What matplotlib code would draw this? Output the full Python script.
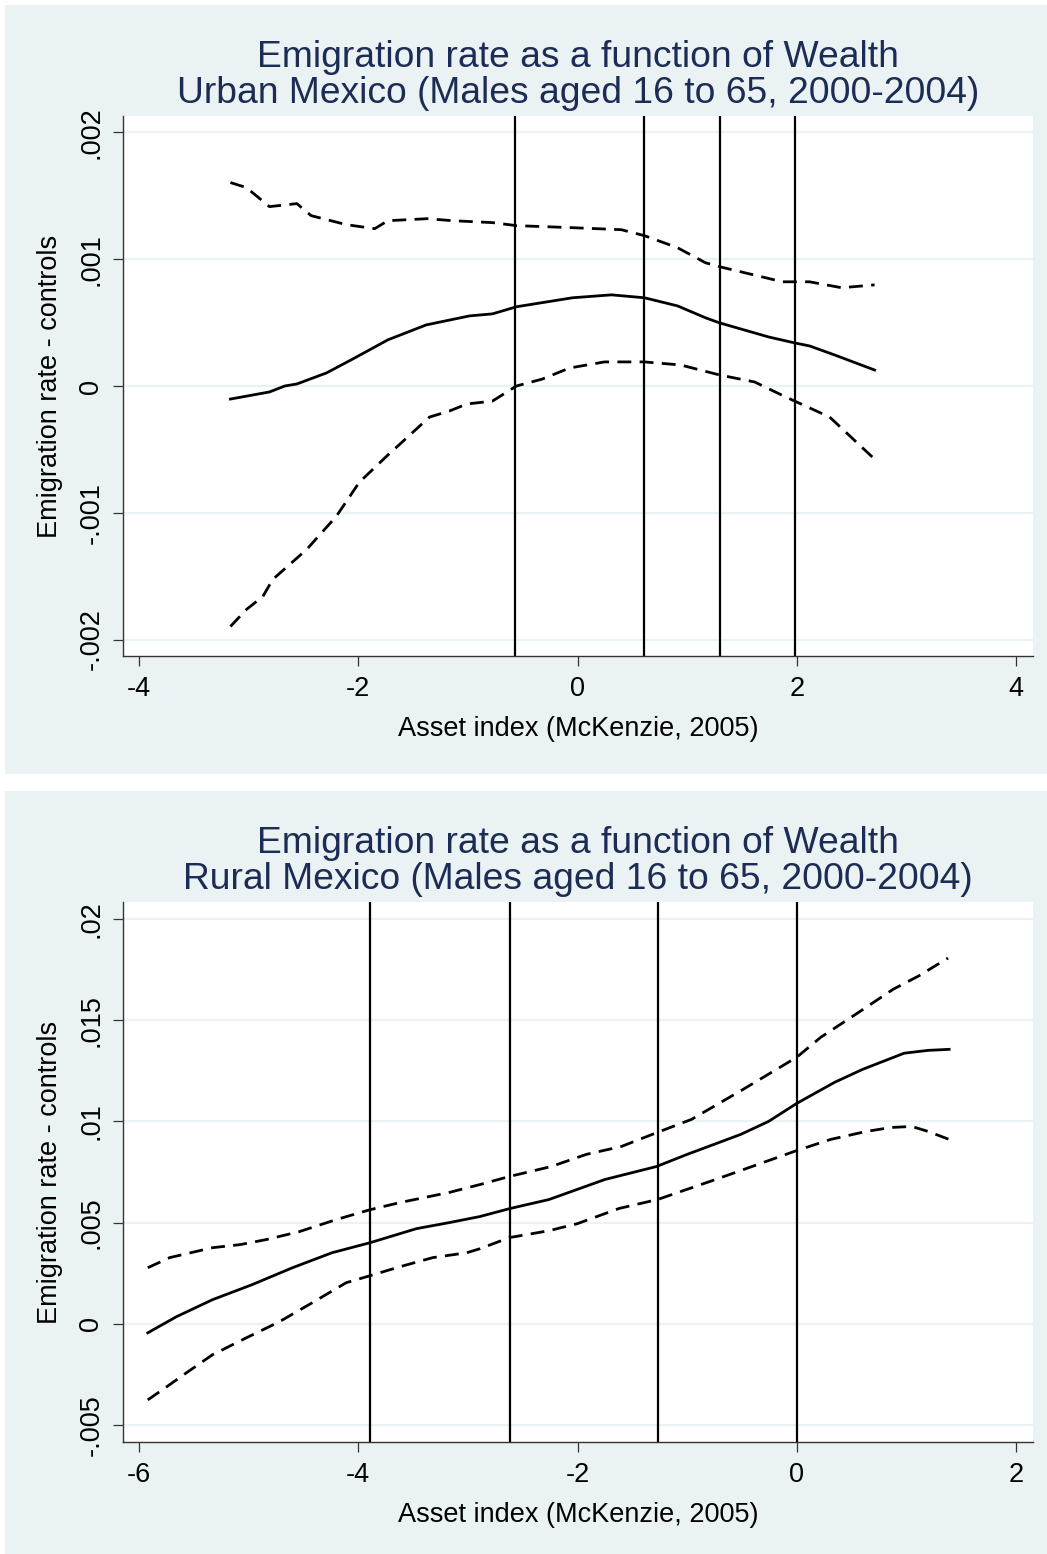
import matplotlib
matplotlib.use('Agg')
import matplotlib.pyplot as plt
from matplotlib.patches import Rectangle

plt.rcParams['font.family'] = ['Liberation Sans', 'DejaVu Sans']

# Urban panel data
urban_fit_x = [-3.166, -2.81, -2.67, -2.56, -2.29, -2.05, -1.73, -1.38, -0.985, -0.776, -0.557,
               -0.046, 0.31, 0.611, 0.912, 1.168, 1.296, 1.743, 1.98, 2.117, 2.345, 2.71]
urban_fit = [-0.000103, -0.000047, 0.0, 0.000016, 0.000103, 0.000213, 0.000364, 0.000482, 0.000553,
             0.000569, 0.000625, 0.000696, 0.000719, 0.000696, 0.000632, 0.000538, 0.000498,
             0.000387, 0.000340, 0.000316, 0.000245, 0.000126]
urban_hi_x = [-3.166, -3.02, -2.81, -2.56, -2.43, -2.11, -1.85, -1.73, -1.37, -1.14, -0.776, -0.557,
              -0.046, 0.40, 0.611, 0.912, 1.168, 1.296, 1.87, 2.117, 2.41, 2.71]
urban_hi = [0.001605, 0.001565, 0.001415, 0.001439, 0.001344, 0.001273, 0.001241, 0.001304, 0.00132,
            0.001304, 0.001289, 0.001265, 0.001249, 0.001233, 0.001186, 0.001091, 0.000972,
            0.000941, 0.000822, 0.000822, 0.000775, 0.000798]
urban_lo_x = [-3.166, -3.02, -2.87, -2.78, -2.47, -2.20, -1.99, -1.74, -1.35, -1.17, -1.01, -0.776,
              -0.557, -0.32, -0.073, 0.246, 0.611, 0.94, 1.296, 1.615, 1.90, 2.30, 2.71]
urban_lo = [-0.001897, -0.001763, -0.00166, -0.001526, -0.001289, -0.001028, -0.000759, -0.000553,
            -0.000245, -0.000198, -0.000142, -0.000119, 0.0, 0.000055, 0.000142, 0.00019, 0.00019,
            0.000166, 0.000087, 0.000032, -0.000087, -0.000245, -0.000577]
urban_cuts = [-0.566, 0.611, 1.296, 1.98]

# Rural panel data
rural_fit_x = [-5.92, -5.66, -5.33, -4.97, -4.60, -4.24, -3.89, -3.47, -3.17, -2.89, -2.62, -2.26,
               -1.75, -1.28, -1.0, -0.51, -0.257, 0.0, 0.345, 0.60, 0.98, 1.20, 1.39]
rural_fit = [-0.000446, 0.000347, 0.00119, 0.00193, 0.00277, 0.00351, 0.00401, 0.0047, 0.005, 0.0053,
             0.00569, 0.00614, 0.00713, 0.00777, 0.00837, 0.00936, 0.0100, 0.01089, 0.01193,
             0.01257, 0.01337, 0.01351, 0.01356]
rural_hi_x = [-5.92, -5.72, -5.33, -5.08, -4.84, -4.54, -4.20, -3.89, -3.62, -3.17, -2.89, -2.62,
              -2.24, -1.92, -1.60, -1.27, -0.96, -0.49, 0.0, 0.22, 0.54, 0.88, 1.11, 1.38]
rural_hi = [0.00277, 0.00327, 0.00376, 0.00391, 0.00416, 0.00455, 0.00515, 0.00564, 0.00599, 0.00649,
            0.00688, 0.00728, 0.00777, 0.00837, 0.00876, 0.00946, 0.0101, 0.01158, 0.01317,
            0.01416, 0.0153, 0.01653, 0.01718, 0.01807]
rural_lo_x = [-5.92, -5.75, -5.57, -5.33, -5.02, -4.72, -4.42, -4.11, -3.89, -3.62, -3.32, -3.01,
              -2.89, -2.62, -2.26, -2.0, -1.62, -1.27, -0.74, 0.0, 0.31, 0.63, 0.86, 1.05, 1.20, 1.39]
rural_lo = [-0.00376, -0.00312, -0.00243, -0.00153, -0.00069, 0.0001, 0.00104, 0.00203, 0.00238,
            0.00282, 0.00327, 0.00351, 0.00371, 0.00426, 0.0046, 0.00495, 0.0057, 0.00614, 0.00713,
            0.00856, 0.00911, 0.0095, 0.0097, 0.00975, 0.0095, 0.00911]
rural_cuts = [-3.89, -2.62, -1.27, 0.0]

urban_xticks = [-4, -2, 0, 2, 4]
urban_yticks = [-0.002, -0.001, 0, 0.001, 0.002]
urban_ylabels = ['-.002', '-.001', '0', '.001', '.002']
rural_xticks = [-6, -4, -2, 0, 2]
rural_yticks = [-0.005, 0, 0.005, 0.01, 0.015, 0.02]
rural_ylabels = ['-.005', '0', '.005', '.01', '.015', '.02']

TITLE1 = "Emigration rate as a function of Wealth"
urban_title = "Urban Mexico (Males aged 16 to 65, 2000-2004)"
rural_title = "Rural Mexico (Males aged 16 to 65, 2000-2004)"

W, H = 1047, 1554
BG = '#eaf2f3'
NAVY = '#1c2c54'
fig = plt.figure(figsize=(W / 100, H / 100), dpi=100, facecolor='white')


def px_rect(x0, y0, x1, y1):
    # pixel box (top-left origin) -> figure fraction rect
    return [x0 / W, 1 - y1 / H, (x1 - x0) / W, (y1 - y0) / H]


def draw_panel(top, subtitle, fx, fit, hx, hi, lx, lo, cuts, xticks, xlim, yticks, ylabels, ylim):
    # grey-blue graph region
    r = px_rect(5, top, 1047, top + 769)
    fig.add_artist(Rectangle((r[0], r[1]), r[2], r[3], transform=fig.transFigure,
                             facecolor=BG, edgecolor='none', zorder=0))
    ax = fig.add_axes(px_rect(123, top + 111, 1033, top + 651))
    ax.set_facecolor('white')
    for y in yticks:
        ax.axhline(y, color=BG, lw=1.6, zorder=1)
    for c in cuts:
        ax.axvline(c, color='black', lw=1.6, zorder=2)
    ax.plot(fx, fit, color='black', lw=2.0, zorder=3)
    ax.plot(hx, hi, color='black', lw=2.0, dashes=(5, 3), zorder=3)
    ax.plot(lx, lo, color='black', lw=2.0, dashes=(5, 3), zorder=3)
    ax.set_xlim(*xlim)
    ax.set_ylim(*ylim)
    ax.set_xticks(xticks)
    ax.set_xticklabels([str(t) for t in xticks])
    ax.set_yticks(yticks)
    ax.set_yticklabels(ylabels, rotation=90, va='center')
    for s in ['top', 'right']:
        ax.spines[s].set_visible(False)
    for s in ['left', 'bottom']:
        ax.spines[s].set_color('#333333')
        ax.spines[s].set_linewidth(1.0)
    ax.tick_params(length=7.5, width=0.9, color='#333333', labelsize=19.5)
    ax.tick_params(axis='x', pad=7)
    ax.tick_params(axis='y', pad=6)
    ax.set_xlabel("Asset index (McKenzie, 2005)", fontsize=19.5, labelpad=10)
    ax.set_ylabel("Emigration rate - controls", fontsize=19.5, labelpad=11)
    fig.text(578 / W, 1 - (top + 62) / H, TITLE1, ha='center', va='baseline',
             fontsize=26.8, color=NAVY)
    fig.text(578 / W, 1 - (top + 98) / H, subtitle, ha='center', va='baseline',
             fontsize=26.8, color=NAVY)
    return ax


draw_panel(5, urban_title, urban_fit_x, urban_fit, urban_hi_x, urban_hi, urban_lo_x, urban_lo,
           urban_cuts, urban_xticks, (-4.146, 4.155), urban_yticks, urban_ylabels,
           (-0.00213, 0.00213))
draw_panel(791, rural_title, rural_fit_x, rural_fit, rural_hi_x, rural_hi, rural_lo_x, rural_lo,
           rural_cuts, rural_xticks, (-6.146, 2.155), rural_yticks, rural_ylabels,
           (-0.00584, 0.02084))

fig.savefig('out.png', dpi=100, facecolor='white')
